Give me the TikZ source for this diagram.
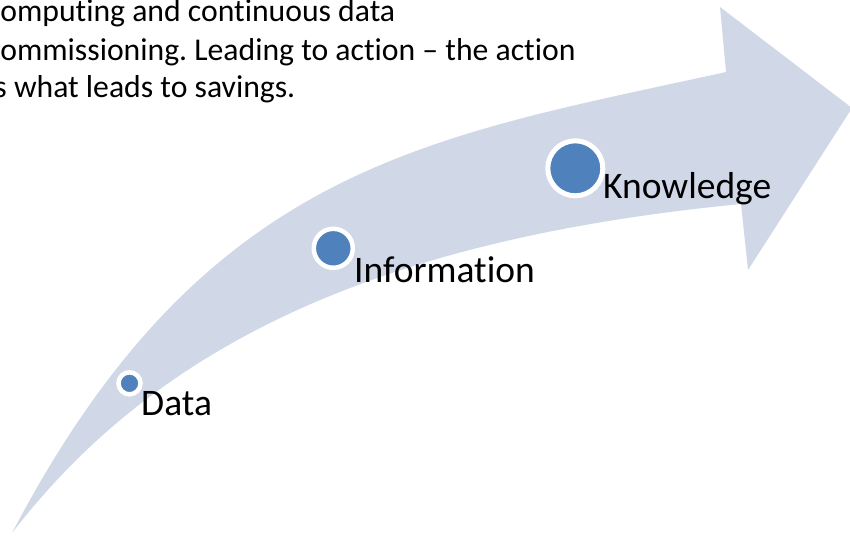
\documentclass[tikz,border=0pt]{standalone}
\usepackage{fontspec}
\setmainfont{Carlito}[Ligatures=NoCommon]
\definecolor{bandblue}{HTML}{D0D8E8}
\definecolor{dotblue}{HTML}{4F81BD}
\frenchspacing
\begin{document}
\begin{tikzpicture}[x=1pt,y=-1pt,
  stage/.style={circle, fill=dotblue, draw=white, inner sep=0pt},
  stagelabel/.style={anchor=base west, inner sep=0pt, font=\fontsize{37.5}{42}\selectfont},
  bodytext/.style={anchor=base west, inner sep=0pt, font=\fontsize{31.7}{38}\selectfont}]
\useasboundingbox (0,0) rectangle (850,535);
\clip (0,0) rectangle (850,535);

% curved progress arrow: upper edge, head, lower edge
\fill[bandblue]
  (12,533) .. controls (205,165) and (426,138) .. (726,72)
  -- (720,7) -- (852,108) -- (748,270) -- (741,204)
  .. controls (391,238) and (162,338) .. (12,533)
  -- cycle;

% stages along the arrow
\node[stage, minimum size=22pt, line width=4.5pt] (data) at (129.5,383.3) {};
\node[stage, minimum size=39pt, line width=4.5pt] (info) at (333.3,248.3) {};
\node[stage, minimum size=55pt, line width=5pt] (know) at (575.3,168.3) {};

\node[stagelabel] (datalbl) at (141,415) {Data};
\node[stagelabel] (infolbl) at (354,282) {Information};
\node[stagelabel] (knowlbl) at (603,198) {Knowledge};

% paragraph running off the left edge
\node[bodytext] (line1) at (-13,22) {computing and continuous data};
\node[bodytext] (line2) at (-13,60) {commissioning. Leading to action – the action};
\node[bodytext] (line3) at (-13,97) {is what leads to savings.};
\end{tikzpicture}
\end{document}
